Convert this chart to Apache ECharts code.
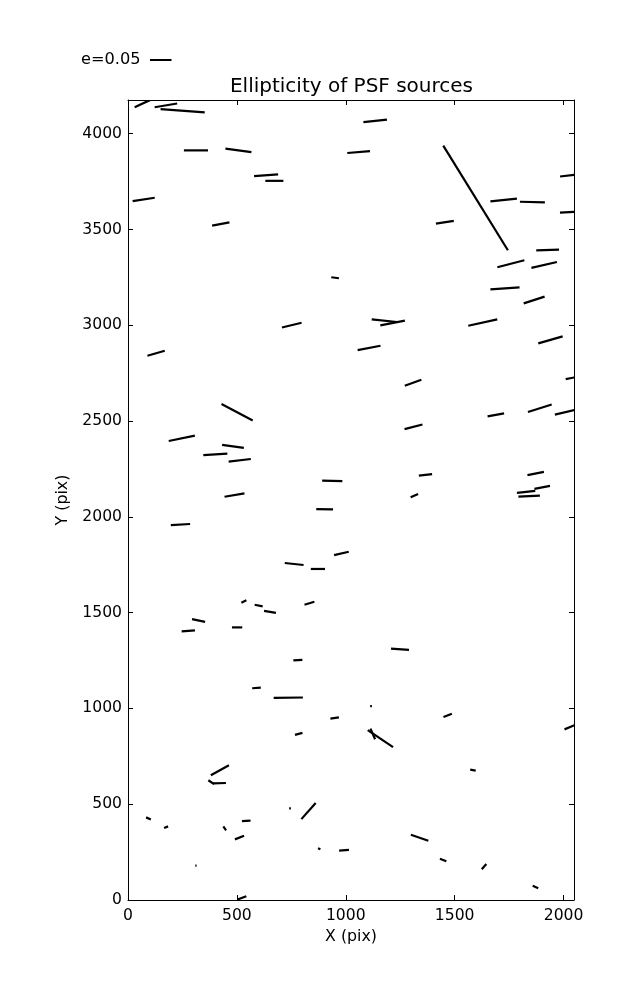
<!DOCTYPE html>
<html><head><meta charset="utf-8">
<script src="https://cdn.jsdelivr.net/npm/echarts@6/dist/echarts.min.js"></script>
<style>html,body{margin:0;padding:0;background:#fff}#c{width:637px;height:1000px}</style>
</head><body><div id="c"></div>
<script>
// Source positions (pix), ellipticity e, and whisker angle (degrees, CCW from +X)
const xs = [69,174,251,312,507,1059,634,672,72,426,951,752,129,1135,1596,2030,1725,1857,2030,1455,1927,1758,1911,1731,1865,1177,1215,1629,1940,1107,
            501,247,482,401,513,938,489,903,241,980,763,872,532,600,652,833,324,277,501,2037,1309,1689,1891,2014,1311,1366,1872,1315,1828,1902,1842,
            780,590,736,949,784,422,382,420,744,829,94,175,444,543,512,878,992,312,523,1249,1116,1468,2028,1159,1124,1584,1339,1447,1635,1871];
const ys = [4159,4148,4120,3913,3913,3904,3783,3754,3657,3529,3248,3001,2854,4067,3665,3783,3654,3643,3591,3538,3393,3321,3315,3193,3132,3024,3012,3014,2924,2882,
            2546,2410,2368,2326,2295,2188,2114,2040,1960,1809,1754,1728,1558,1537,1504,1549,1459,1405,1423,2725,2700,2532,2567,2548,2470,2219,2226,2111,2130,2154,2108,
            1252,1107,1056,950,867,677,615,610,478,464,426,380,374,413,326,268,260,179,11,1309,1012,964,902,842,867,678,325,209,174,68];
const es = [0.043,0.053,0.103,0.056,0.061,0.053,0.056,0.042,0.052,0.041,0.018,0.047,0.042,0.055,0.286,0.047,0.062,0.058,0.047,0.042,0.053,0.065,0.061,0.068,0.051,0.059,0.058,0.069,0.059,0.054,
            0.082,0.062,0.051,0.056,0.052,0.047,0.047,0.039,0.045,0.035,0.044,0.033,0.013,0.019,0.028,0.024,0.031,0.031,0.024,0.028,0.041,0.039,0.058,0.056,0.043,0.031,0.039,0.019,0.043,0.037,0.050,
            0.021,0.020,0.068,0.020,0.018,0.048,0.016,0.030,0.004,0.050,0.012,0.010,0.011,0.020,0.023,0.006,0.023,0.003,0.022,0.042,0.004,0.021,0.026,0.071,0.027,0.013,0.043,0.016,0.016,0.014];
const thetas = [24.8,9.4,-4.3,0,-7.5,4.6,4.1,0,8.8,10.7,-7.5,13.6,16.1,5.8,-58.3,7,5.8,-1.6,3,8.7,1.8,14.5,13.2,3.9,17.7,-5.9,10.8,12.3,16.1,10.7,
            -27.7,11.5,-7.9,3.8,7,-1.7,9.8,-1,3,12.7,-6,0,25.6,-11.3,-9.5,16.7,-11.7,4.3,0,11,19.8,10.4,17.8,13.4,14.6,6.1,11.2,24.3,6.2,10.9,2.7,
            3.8,4.6,0.8,8.6,15.1,29,-33.5,1.4,0,48.2,-23,23,-54.9,2.7,21.7,-22.6,4,0,20.1,-4.4,0,21.6,23,-33.9,-66.7,-10.7,-19,-20.6,48.7,-22.8];
const xTickLabels = [0,500,1000,1500,2000];
const yTickLabels = [0,500,1000,1500,2000,2500,3000,3500,4000];
const keyE = 0.05;

const PX_PER_E = 21.5 / 0.05;
const FONT = 'DejaVu Sans';
const chart = echarts.init(document.getElementById('c'), null, {renderer:'canvas'});
const data = xs.map((x,i)=>[x, ys[i], es[i], thetas[i]]);

function axisCommon(extra){
  return Object.assign({
    type:'value', splitLine:{show:false},
    axisLine:{show:true, onZero:false, lineStyle:{color:'#000', width:1}},
    axisTick:{show:true, inside:true, length:5, lineStyle:{color:'#000', width:1}},
    nameTextStyle:{color:'#000', fontSize:15.8, fontFamily:FONT}
  }, extra);
}
const lblX = {color:'#000', fontSize:15.6, fontFamily:FONT, margin:8, formatter:v=>xTickLabels.includes(v)?String(v):''};
const lblY = {color:'#000', fontSize:15.6, fontFamily:FONT, margin:6, formatter:v=>yTickLabels.includes(v)?String(v):''};

chart.setOption({
  animation:false,
  backgroundColor:'#fff',
  grid:{left:128, top:100, width:446, height:800, containLabel:false},
  xAxis:[
    axisCommon({position:'bottom', min:0, max:2048, interval:500, axisLabel:lblX,
      name:'X (pix)', nameLocation:'middle', nameGap:28}),
    axisCommon({position:'top', min:0, max:2048, interval:500, axisLabel:{show:false}})
  ],
  yAxis:[
    axisCommon({position:'left', min:0, max:4176, interval:500, axisLabel:lblY,
      name:'Y (pix)', nameLocation:'middle', nameGap:57}),
    axisCommon({position:'right', min:0, max:4176, interval:500, axisLabel:{show:false}})
  ],
  graphic:[
    {type:'text', x:351.5, y:87, style:{text:'Ellipticity of PSF sources', fill:'#000', font:'20px "DejaVu Sans"', textAlign:'center', textVerticalAlign:'middle'}},
    {type:'text', x:81, y:60, style:{text:'e='+keyE.toFixed(2), fill:'#000', font:'16.2px "DejaVu Sans"', textAlign:'left', textVerticalAlign:'middle'}},
    {type:'line', shape:{x1:150, y1:60, x2:150+keyE*PX_PER_E, y2:60}, style:{stroke:'#000', lineWidth:2}}
  ],
  series:[{
    type:'custom', xAxisIndex:0, yAxisIndex:0, clip:true,
    data:data, encode:{x:0, y:1},
    renderItem:function(params, api){
      const c = api.coord([api.value(0), api.value(1)]);
      const half = api.value(2)*PX_PER_E/2;
      const t = api.value(3)*Math.PI/180;
      const dx = half*Math.cos(t), dy = -half*Math.sin(t);
      return {type:'line', shape:{x1:c[0]-dx, y1:c[1]-dy, x2:c[0]+dx, y2:c[1]+dy},
        style:{stroke:'#000', lineWidth:2.2, lineCap:'butt'}};
    }
  }]
});
</script></body></html>
